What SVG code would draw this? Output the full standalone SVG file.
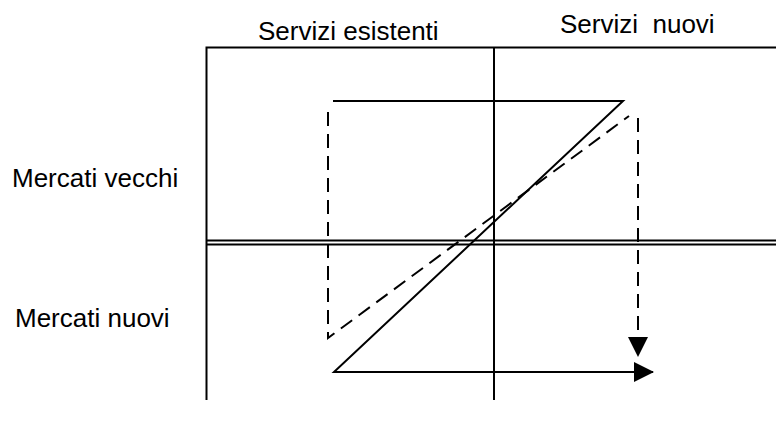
<svg xmlns="http://www.w3.org/2000/svg" width="776" height="431" viewBox="0 0 776 431">
<style>
.t{font-family:"Liberation Sans",Arial,sans-serif;font-size:26px;fill:#000}
.ln{stroke:#000;stroke-width:2;fill:none}
.dl{stroke:#000;stroke-width:2;fill:none;stroke-dasharray:14 8}
</style>
<defs>
<marker id="ah" markerWidth="20" markerHeight="20" refX="19" refY="10" orient="auto" markerUnits="userSpaceOnUse">
<path d="M0,0 L20,10 L0,20 Z" fill="#000"/>
</marker>
</defs>
<rect width="776" height="431" fill="#fff"/>
<g id="grid">
<path class="ln" d="M206.5,400 V47.5 H776"/>
<path class="ln" d="M494,47.5 V400"/>
<path class="ln" d="M206.5,240.5 H776"/>
<path class="ln" d="M206.5,244.5 H776"/>
</g>
<g id="labels">
<text class="t" x="258" y="40">Servizi esistenti</text>
<text class="t" x="560" y="33" xml:space="preserve">Servizi  nuovi</text>
<text class="t" x="12" y="187">Mercati vecchi</text>
<text class="t" x="15" y="327">Mercati nuovi</text>
</g>
<g id="connectors">
<path class="ln" d="M333,101 H623 L334,372 H653" marker-end="url(#ah)"/>
<path class="dl" d="M328,112 V338 L629,116"/>
<path class="dl" d="M638,118 V356" marker-end="url(#ah)"/>
</g>
</svg>
